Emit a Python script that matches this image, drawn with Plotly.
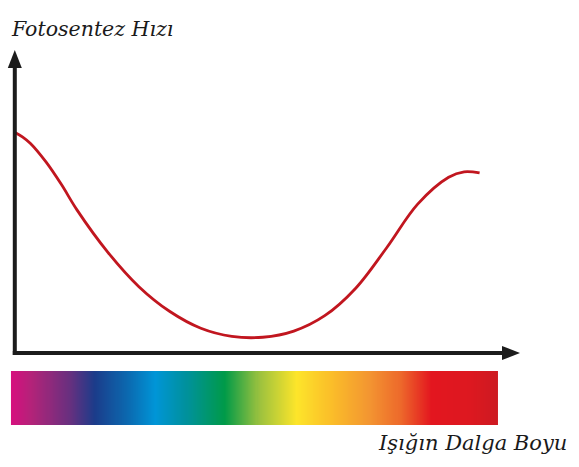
import numpy as np
import plotly.graph_objects as go

# ---- data ----
wavelength_nm = [400, 405, 410, 420, 430, 440, 460, 480, 500, 520, 540, 560, 580,
                 600, 620, 640, 660, 680, 690, 700]
photosynthesis_rate = [99.8, 97.7, 94.8, 86.4, 76.1, 64.6, 45.3, 29.7, 18.4, 10.8, 7.1, 6.7, 9.5,
                       16.5, 29.0, 47.4, 67.2, 79.4, 81.9, 81.4]

spectrum_positions = [0.0, 0.045, 0.121, 0.172, 0.244, 0.296, 0.357, 0.439,
                      0.511, 0.587, 0.655, 0.737, 0.799, 0.864, 0.943, 1.0]
spectrum_colors = ["#d6107e", "#b02479", "#66307f", "#1b3c8a", "#0a6db3", "#0095d7",
                   "#00919f", "#009a48", "#9dc23e", "#fde52a", "#fbbf29", "#f39531",
                   "#ed6a2b", "#e3161f", "#dd1820", "#cd1a21"]
spectrum_range_nm = [397.4, 711.9]

y_title = "Fotosentez Hızı"
x_title = "Işığın Dalga Boyu"

# ---- layout geometry ----
W, H = 579, 467
K = 1.5487          # px per nm
YS = 2.2            # px per rate unit
x_range = [400 - 15 / K, 400 + (W - 15) / K]
y_range = [-(H - 352) / YS, 352 / YS]


def px(x):
    return x / W


def py(y):
    return 1 - y / H


fig = go.Figure()

# spectrum bar
n = 480
edges = np.linspace(spectrum_range_nm[0], spectrum_range_nm[1], n + 1)
zrow = np.linspace(0, 1, n)
fig.add_trace(go.Heatmap(
    x=edges, y=[-(425 - 352) / YS, -(371 - 352) / YS], z=[zrow],
    colorscale=[[p, c] for p, c in zip(spectrum_positions, spectrum_colors)],
    zmin=0, zmax=1, showscale=False, hoverinfo="skip"))

# curve
fig.add_trace(go.Scatter(
    x=wavelength_nm, y=photosynthesis_rate, mode="lines",
    line=dict(color="#c1161f", width=2.8, shape="spline", smoothing=1.0),
    hoverinfo="skip", showlegend=False))

axis_col = "#1c1c1c"
shapes = [
    dict(type="line", xref="paper", yref="paper", x0=px(14.8), y0=py(355), x1=px(14.8), y1=py(66),
         line=dict(color=axis_col, width=4)),
    dict(type="line", xref="paper", yref="paper", x0=px(12.8), y0=py(353), x1=px(504), y1=py(353),
         line=dict(color=axis_col, width=4)),
    dict(type="path", xref="paper", yref="paper",
         path=f"M {px(14.8)} {py(50)} L {px(7.8)} {py(68)} L {px(21.8)} {py(68)} Z",
         fillcolor=axis_col, line=dict(width=0)),
    dict(type="path", xref="paper", yref="paper",
         path=f"M {px(520)} {py(353)} L {px(502)} {py(346)} L {px(502)} {py(360)} Z",
         fillcolor=axis_col, line=dict(width=0)),
]

font_top = dict(family="DejaVu Serif", size=20.5, color="#1a1a1a", style="italic")
font_bot = dict(family="DejaVu Serif", size=21, color="#1a1a1a", style="italic")
annotations = [
    dict(text=y_title, xref="paper", yref="paper", x=px(9), y=py(29),
         xanchor="left", yanchor="middle", showarrow=False, font=font_top),
    dict(text=x_title, xref="paper", yref="paper", x=px(569), y=py(443),
         xanchor="right", yanchor="middle", showarrow=False, font=font_bot),
]

fig.update_layout(
    width=W, height=H, margin=dict(l=0, r=0, t=0, b=0),
    paper_bgcolor="white", plot_bgcolor="white", showlegend=False,
    xaxis=dict(range=x_range, visible=False, fixedrange=True),
    yaxis=dict(range=y_range, visible=False, fixedrange=True),
    shapes=shapes, annotations=annotations,
)

fig.write_html("out.html", post_script="document.body.style.margin='0';",
               config={"displayModeBar": False})
